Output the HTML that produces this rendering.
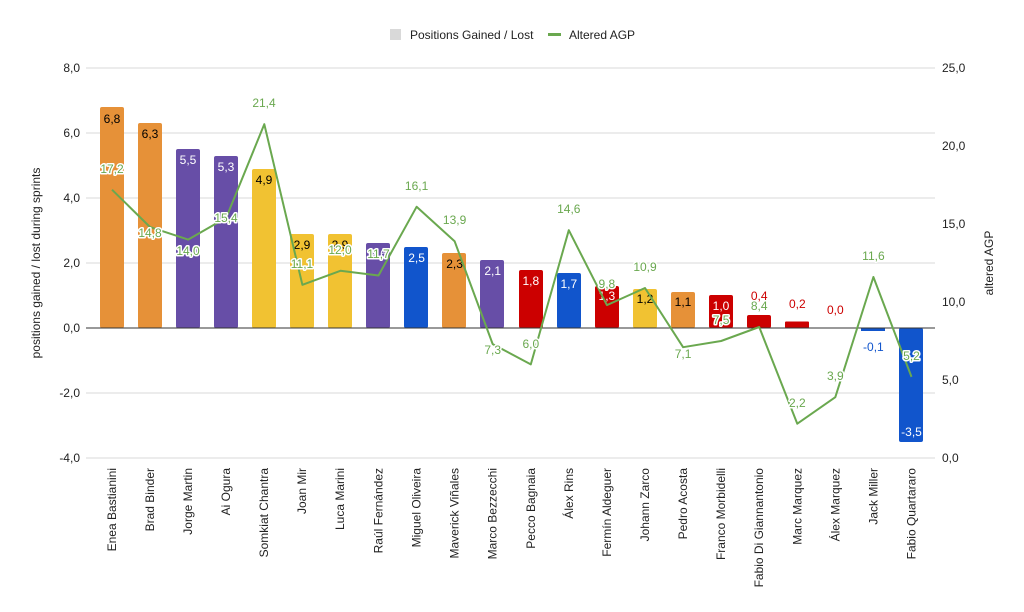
<!DOCTYPE html>
<html><head><meta charset="utf-8"><style>
body{margin:0;background:#fff}
svg{display:block;font-family:"Liberation Sans",Arial,sans-serif}
.h{paint-order:stroke;stroke:#fff;stroke-width:3px;stroke-linejoin:round}
</style></head><body>
<svg width="1024" height="612" viewBox="0 0 1024 612">
<!-- legend -->
<rect x="390" y="29" width="11" height="11" fill="#d9d9d9"/>
<text x="410" y="39" font-size="12" fill="#222">Positions Gained / Lost</text>
<rect x="548" y="33" width="13" height="3" fill="#6aa84f"/>
<text x="569" y="39" font-size="12" fill="#222">Altered AGP</text>
<!-- grid -->
<g stroke="#d9d9d9" stroke-width="1">
<line x1="86" x2="935" y1="68" y2="68"/><line x1="86" x2="935" y1="133" y2="133"/>
<line x1="86" x2="935" y1="198" y2="198"/><line x1="86" x2="935" y1="263" y2="263"/>
<line x1="86" x2="935" y1="393" y2="393"/><line x1="86" x2="935" y1="458" y2="458"/>
</g>
<g font-size="12" fill="#222" text-anchor="end">
<text x="80" y="72">8,0</text><text x="80" y="137">6,0</text><text x="80" y="202">4,0</text>
<text x="80" y="267">2,0</text><text x="80" y="332">0,0</text><text x="80" y="397">-2,0</text><text x="80" y="462">-4,0</text>
</g>
<g font-size="12" fill="#222">
<text x="942" y="72">25,0</text><text x="942" y="150">20,0</text><text x="942" y="228">15,0</text>
<text x="942" y="306">10,0</text><text x="942" y="384">5,0</text><text x="942" y="462">0,0</text>
</g>
<text transform="translate(40,263) rotate(-90)" font-size="12" fill="#222" text-anchor="middle">positions gained / lost during sprints</text>
<text transform="translate(993,263) rotate(-90)" font-size="12" fill="#222" text-anchor="middle">altered AGP</text>
<!-- bars -->
<g>
<rect x="100" y="107" width="24" height="221" rx="2" fill="#e69138"/>
<rect x="138" y="123" width="24" height="205" rx="2" fill="#e69138"/>
<rect x="176" y="149" width="24" height="179" rx="2" fill="#674ea7"/>
<rect x="214" y="156" width="24" height="172" rx="2" fill="#674ea7"/>
<rect x="252" y="169" width="24" height="159" rx="2" fill="#f1c232"/>
<rect x="290" y="234" width="24" height="94" rx="2" fill="#f1c232"/>
<rect x="328" y="234" width="24" height="94" rx="2" fill="#f1c232"/>
<rect x="366" y="243" width="24" height="85" rx="2" fill="#674ea7"/>
<rect x="404" y="247" width="24" height="81" rx="2" fill="#1155cc"/>
<rect x="442" y="253" width="24" height="75" rx="2" fill="#e69138"/>
<rect x="480" y="260" width="24" height="68" rx="2" fill="#674ea7"/>
<rect x="519" y="270" width="24" height="58" rx="2" fill="#cc0000"/>
<rect x="557" y="273" width="24" height="55" rx="2" fill="#1155cc"/>
<rect x="595" y="286" width="24" height="42" rx="2" fill="#cc0000"/>
<rect x="633" y="289" width="24" height="39" rx="2" fill="#f1c232"/>
<rect x="671" y="292" width="24" height="36" rx="2" fill="#e69138"/>
<rect x="709" y="295" width="24" height="33" rx="2" fill="#cc0000"/>
<rect x="747" y="315" width="24" height="13" rx="2" fill="#cc0000"/>
<rect x="785" y="321.5" width="24" height="6.5" rx="1" fill="#cc0000"/>
<rect x="861" y="328" width="24" height="3" fill="#1155cc"/>
<rect x="899" y="328" width="24" height="114" rx="2" fill="#1155cc"/>
</g>
<line x1="86" x2="935" y1="328" y2="328" stroke="#333" stroke-width="1"/>
<!-- bar labels -->
<g font-size="12" text-anchor="middle">
<text x="112" y="123" fill="#000">6,8</text>
<text x="150" y="138" fill="#000">6,3</text>
<text x="188" y="164" fill="#fff">5,5</text>
<text x="226" y="171" fill="#fff">5,3</text>
<text x="264" y="184" fill="#000">4,9</text>
<text x="302" y="249" fill="#000">2,9</text>
<text x="340" y="249" fill="#000">2,9</text>
<text x="378.5" y="258" fill="#fff">2,6</text>
<text x="416.6" y="262" fill="#fff">2,5</text>
<text x="454.6" y="268" fill="#000">2,3</text>
<text x="492.7" y="275" fill="#fff">2,1</text>
<text x="530.8" y="285" fill="#fff">1,8</text>
<text x="568.8" y="288" fill="#fff">1,7</text>
<text x="606.9" y="300" fill="#fff">1,3</text>
<text x="645" y="303" fill="#000">1,2</text>
<text x="683" y="306" fill="#000">1,1</text>
<text x="721" y="310" fill="#fff">1,0</text>
<text x="759.2" y="300" fill="#cc0000">0,4</text>
<text x="797.3" y="308" fill="#cc0000">0,2</text>
<text x="835.3" y="314" fill="#cc0000">0,0</text>
<text x="873.4" y="351" fill="#1155cc">-0,1</text>
<text x="911.5" y="436" fill="#fff">-3,5</text>
</g>
<!-- line -->
<polyline fill="none" stroke="#6aa84f" stroke-width="2" stroke-linejoin="round" points="112,189.7 150.1,227.1 188.1,239.6 226.2,217.8 264.3,124.2 302.4,284.8 340.4,270.8 378.5,275.5 416.6,206.8 454.6,241.2 492.7,344.1 530.8,364.4 568.8,230.2 606.9,305.1 645,288 683.1,347.2 721.1,341 759.2,327 797.3,423.7 835.3,397.2 873.4,277 911.5,376.9"/>
<g font-size="12" text-anchor="middle" fill="#6aa84f" class="h">
<text x="112" y="173">17,2</text>
<text x="150" y="237">14,8</text>
<text x="188" y="255">14,0</text>
<text x="226" y="222">15,4</text>
<text x="264" y="107">21,4</text>
<text x="302" y="268">11,1</text>
<text x="340" y="254">12,0</text>
<text x="378.5" y="258">11,7</text>
<text x="416.6" y="190">16,1</text>
<text x="454.6" y="224">13,9</text>
<text x="492.7" y="354">7,3</text>
<text x="530.8" y="348">6,0</text>
<text x="568.8" y="213">14,6</text>
<text x="606.9" y="288">9,8</text>
<text x="645" y="271">10,9</text>
<text x="683.1" y="358">7,1</text>
<text x="721.1" y="324">7,5</text>
<text x="759.2" y="310">8,4</text>
<text x="797.3" y="407">2,2</text>
<text x="835.3" y="380">3,9</text>
<text x="873.4" y="260">11,6</text>
<text x="911.5" y="360">5,2</text>
</g>
<!-- x labels -->
<g font-size="12" fill="#222" text-anchor="end">
<text transform="translate(116,468) rotate(-90)">Enea Bastianini</text>
<text transform="translate(154,468) rotate(-90)">Brad Binder</text>
<text transform="translate(192,468) rotate(-90)">Jorge Martin</text>
<text transform="translate(230,468) rotate(-90)">Ai Ogura</text>
<text transform="translate(268,468) rotate(-90)">Somkiat Chantra</text>
<text transform="translate(306,468) rotate(-90)">Joan Mir</text>
<text transform="translate(344,468) rotate(-90)">Luca Marini</text>
<text transform="translate(382.5,468) rotate(-90)">Raúl Fernández</text>
<text transform="translate(420.6,468) rotate(-90)">Miguel Oliveira</text>
<text transform="translate(458.6,468) rotate(-90)">Maverick Viñales</text>
<text transform="translate(496.7,468) rotate(-90)">Marco Bezzecchi</text>
<text transform="translate(534.8,468) rotate(-90)">Pecco Bagnaia</text>
<text transform="translate(572.8,468) rotate(-90)">Álex Rins</text>
<text transform="translate(610.9,468) rotate(-90)">Fermín Aldeguer</text>
<text transform="translate(649,468) rotate(-90)">Johann Zarco</text>
<text transform="translate(687.1,468) rotate(-90)">Pedro Acosta</text>
<text transform="translate(725.1,468) rotate(-90)">Franco Morbidelli</text>
<text transform="translate(763.2,468) rotate(-90)">Fabio Di Giannantonio</text>
<text transform="translate(801.3,468) rotate(-90)">Marc Marquez</text>
<text transform="translate(839.3,468) rotate(-90)">Álex Marquez</text>
<text transform="translate(877.4,468) rotate(-90)">Jack Miller</text>
<text transform="translate(915.5,468) rotate(-90)">Fabio Quartararo</text>
</g>
</svg>
</body></html>
